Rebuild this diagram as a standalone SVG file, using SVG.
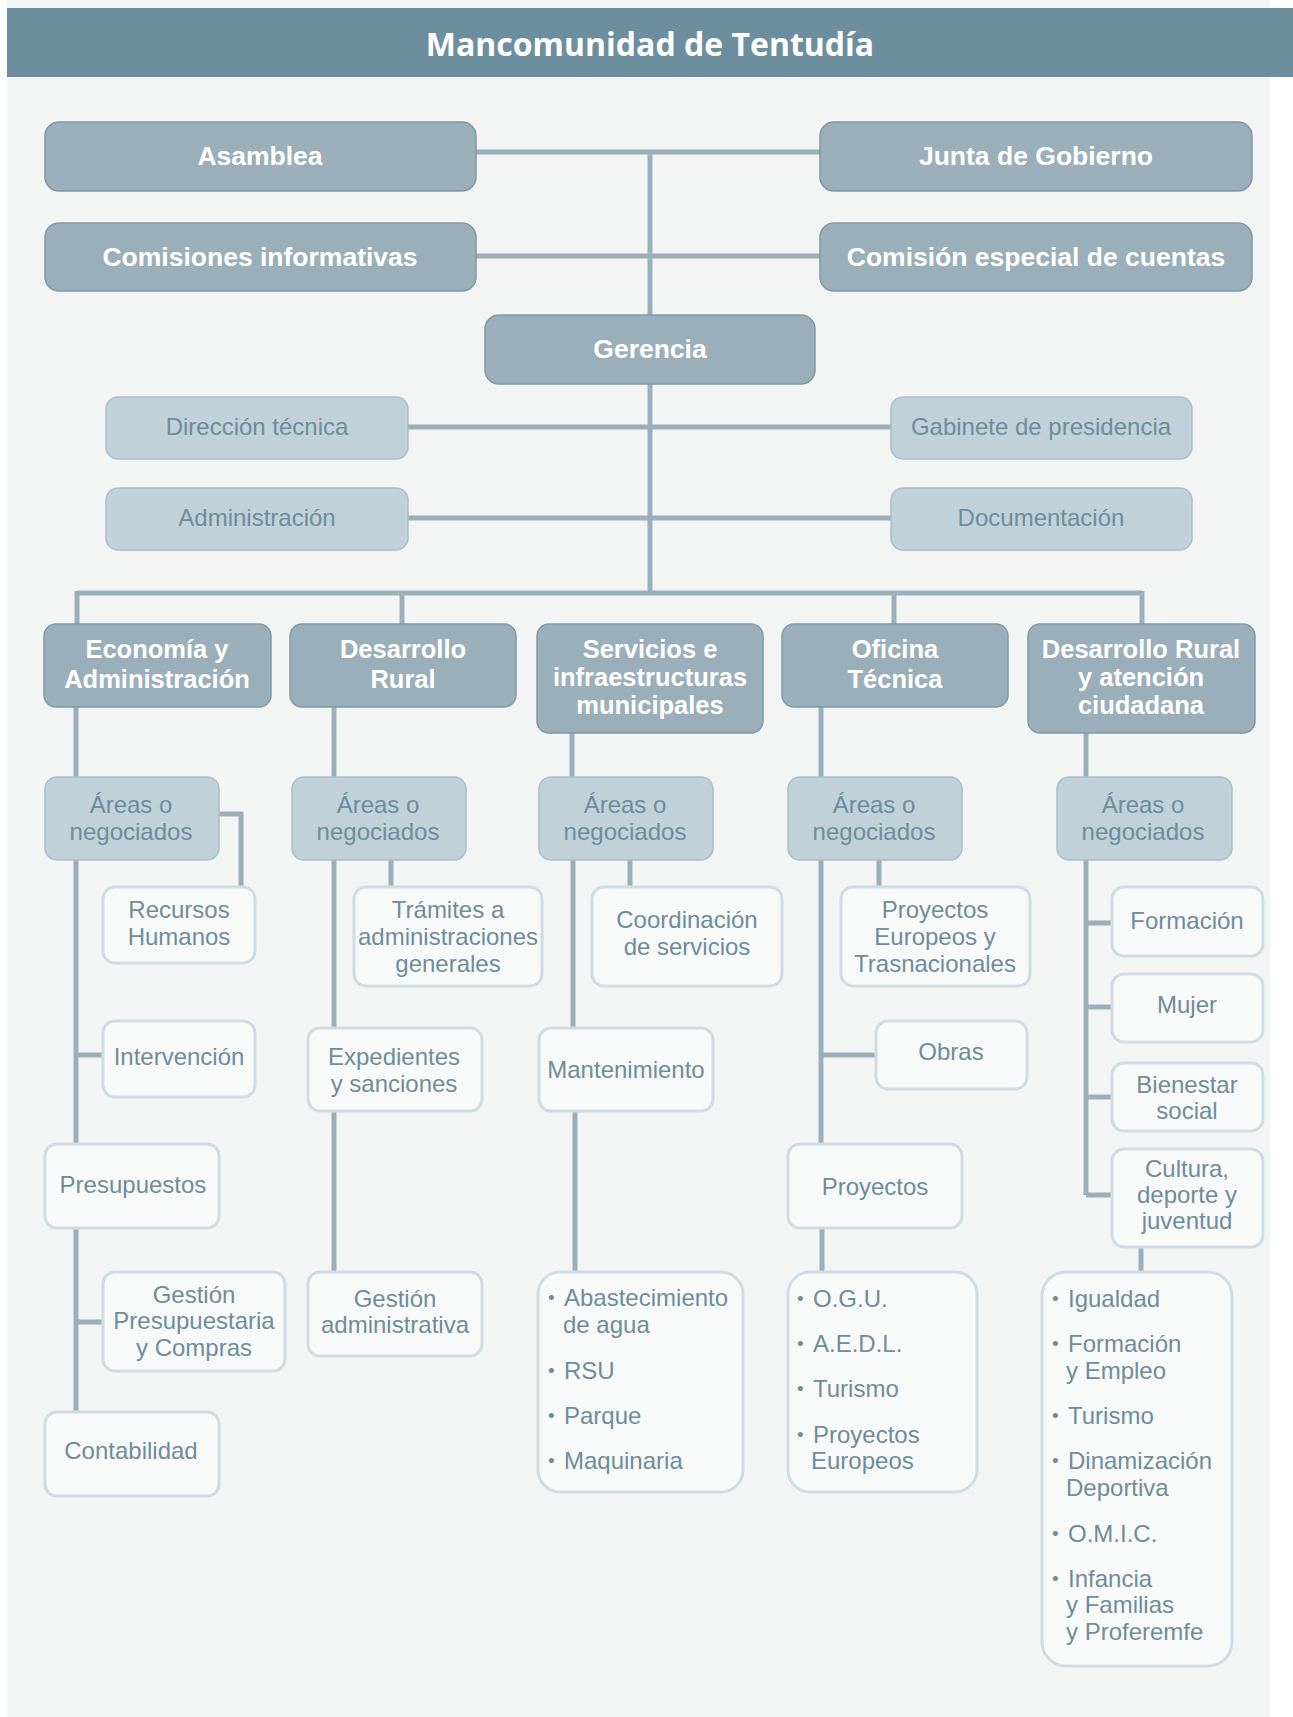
<svg xmlns="http://www.w3.org/2000/svg" width="1293" height="1717" viewBox="0 0 1293 1717">
<style>
.bg{fill:#f3f5f5}
.hdr{fill:#6d8e9f}
.title{font-family:"Open Sans","Liberation Sans",sans-serif;font-weight:bold;font-size:32px;fill:#ffffff;text-anchor:middle}
.dk{fill:#9aafba;stroke:#7f99a7;stroke-width:1.5}
.lt{fill:#c0d1da;stroke:#a9bfca;stroke-width:1.5}
.wh{fill:#f8fafa;stroke:#d0dce2;stroke-width:3}
.tb{font-family:"Liberation Sans",Arial,sans-serif;font-weight:bold;font-size:26.5px;fill:#ffffff;text-anchor:middle}
.td{font-family:"Liberation Sans",Arial,sans-serif;font-weight:bold;font-size:25.5px;fill:#ffffff;text-anchor:middle}
.tl{font-family:"Liberation Sans",Arial,sans-serif;font-size:24px;fill:#6f8c9b;text-anchor:middle}
.tw{font-family:"Liberation Sans",Arial,sans-serif;font-size:24px;fill:#6f8c9b;text-anchor:middle}
.li{font-family:"Liberation Sans",Arial,sans-serif;font-size:24px;fill:#6f8c9b}
.bu{font-family:"Liberation Sans",Arial,sans-serif;font-size:19px;fill:#6f8c9b}
.cn{fill:none;stroke:#9aafba;stroke-width:5}
</style>
<rect class="bg" x="7" y="0" width="1263" height="1717"/>
<rect class="hdr" x="7" y="8" width="1286" height="69"/>
<text class="title" x="650" y="56">Mancomunidad de Tentudía</text>

<g id="connectors">
<path class="cn" d="M476 152H820M476 256H820M650 152V315"/>
<path class="cn" d="M650 384V593M408 427H891M408 518H891"/>
<path class="cn" d="M77 593H1142M77 591V624M402 593V624M894 593V624M1142 591V624"/>
<path class="cn" d="M76 707V777M76 860V1144M76 1055H103M76 1228V1412M76 1322H103M219 814H241V887"/>
<path class="cn" d="M334 707V777M334 860V1028M334 1111V1272M391 860V887"/>
<path class="cn" d="M572 733V777M573 860V1028M575 1111V1272M630 860V887"/>
<path class="cn" d="M821 707V777M821 860V1144M821 1055H876M879 860V887M822 1228V1272"/>
<path class="cn" d="M1086 733V777M1086 860V1195M1086 923H1112M1086 1007H1112M1086 1097H1112M1086 1195H1112M1141 1247V1272"/>
</g>

<g id="asamblea"><rect class="dk" x="45" y="122" width="431" height="69" rx="14"/><text class="tb" x="260" y="165">Asamblea</text></g>
<g id="junta"><rect class="dk" x="820" y="122" width="432" height="69" rx="14"/><text class="tb" x="1036" y="165">Junta de Gobierno</text></g>
<g id="comisiones"><rect class="dk" x="45" y="223" width="431" height="68" rx="14"/><text class="tb" x="260" y="266">Comisiones informativas</text></g>
<g id="comision-especial"><rect class="dk" x="820" y="223" width="432" height="68" rx="14"/><text class="tb" x="1036" y="266">Comisión especial de cuentas</text></g>
<g id="gerencia"><rect class="dk" x="485" y="315" width="330" height="69" rx="14"/><text class="tb" x="650" y="358">Gerencia</text></g>

<g id="direccion"><rect class="lt" x="106" y="397" width="302" height="62" rx="12"/><text class="tl" x="257" y="435">Dirección técnica</text></g>
<g id="gabinete"><rect class="lt" x="891" y="397" width="301" height="62" rx="12"/><text class="tl" x="1041" y="435">Gabinete de presidencia</text></g>
<g id="administracion"><rect class="lt" x="106" y="488" width="302" height="62" rx="12"/><text class="tl" x="257" y="526">Administración</text></g>
<g id="documentacion"><rect class="lt" x="891" y="488" width="301" height="62" rx="12"/><text class="tl" x="1041" y="526">Documentación</text></g>

<g id="economia"><rect class="dk" x="44" y="624" width="227" height="83" rx="12"/><text class="td" x="157" y="658">Economía y</text><text class="td" x="157" y="688">Administración</text></g>
<g id="desarrollo"><rect class="dk" x="290" y="624" width="226" height="83" rx="12"/><text class="td" x="403" y="658">Desarrollo</text><text class="td" x="403" y="688">Rural</text></g>
<g id="servicios"><rect class="dk" x="537" y="624" width="226" height="109" rx="12"/><text class="td" x="650" y="658">Servicios e</text><text class="td" x="650" y="686">infraestructuras</text><text class="td" x="650" y="714">municipales</text></g>
<g id="oficina"><rect class="dk" x="782" y="624" width="226" height="83" rx="12"/><text class="td" x="895" y="658">Oficina</text><text class="td" x="895" y="688">Técnica</text></g>
<g id="desarrollo-atencion"><rect class="dk" x="1028" y="624" width="227" height="109" rx="12"/><text class="td" x="1141" y="658">Desarrollo Rural</text><text class="td" x="1141" y="686">y atención</text><text class="td" x="1141" y="714">ciudadana</text></g>

<g id="areas1"><rect class="lt" x="45" y="777" width="174" height="83" rx="12"/><text class="tl" x="131" y="813">Áreas o</text><text class="tl" x="131" y="840">negociados</text></g>
<g id="areas2"><rect class="lt" x="292" y="777" width="174" height="83" rx="12"/><text class="tl" x="378" y="813">Áreas o</text><text class="tl" x="378" y="840">negociados</text></g>
<g id="areas3"><rect class="lt" x="539" y="777" width="174" height="83" rx="12"/><text class="tl" x="625" y="813">Áreas o</text><text class="tl" x="625" y="840">negociados</text></g>
<g id="areas4"><rect class="lt" x="788" y="777" width="174" height="83" rx="12"/><text class="tl" x="874" y="813">Áreas o</text><text class="tl" x="874" y="840">negociados</text></g>
<g id="areas5"><rect class="lt" x="1057" y="777" width="175" height="83" rx="12"/><text class="tl" x="1143" y="813">Áreas o</text><text class="tl" x="1143" y="840">negociados</text></g>

<g id="recursos"><rect class="wh" x="103" y="887" width="152" height="76" rx="12"/><text class="tw" x="179" y="918">Recursos</text><text class="tw" x="179" y="945">Humanos</text></g>
<g id="intervencion"><rect class="wh" x="103" y="1021" width="152" height="76" rx="12"/><text class="tw" x="179" y="1065">Intervención</text></g>
<g id="presupuestos"><rect class="wh" x="45" y="1144" width="174" height="84" rx="12"/><text class="tw" x="133" y="1193">Presupuestos</text></g>
<g id="gestion-presupuestaria"><rect class="wh" x="103" y="1272" width="182" height="99" rx="12"/><text class="tw" x="194" y="1303">Gestión</text><text class="tw" x="194" y="1329">Presupuestaria</text><text class="tw" x="194" y="1356">y Compras</text></g>
<g id="contabilidad"><rect class="wh" x="45" y="1412" width="174" height="84" rx="12"/><text class="tw" x="131" y="1459">Contabilidad</text></g>

<g id="tramites"><rect class="wh" x="354" y="887" width="188" height="99" rx="12"/><text class="tw" x="448" y="918">Trámites a</text><text class="tw" x="448" y="945">administraciones</text><text class="tw" x="448" y="972">generales</text></g>
<g id="expedientes"><rect class="wh" x="308" y="1028" width="174" height="83" rx="12"/><text class="tw" x="394" y="1065">Expedientes</text><text class="tw" x="394" y="1092">y sanciones</text></g>
<g id="gestion-administrativa"><rect class="wh" x="308" y="1272" width="174" height="84" rx="12"/><text class="tw" x="395" y="1307">Gestión</text><text class="tw" x="395" y="1333">administrativa</text></g>

<g id="coordinacion"><rect class="wh" x="592" y="887" width="190" height="99" rx="12"/><text class="tw" x="687" y="928">Coordinación</text><text class="tw" x="687" y="955">de servicios</text></g>
<g id="mantenimiento"><rect class="wh" x="539" y="1028" width="174" height="83" rx="12"/><text class="tw" x="626" y="1078">Mantenimiento</text></g>
<g id="lista-servicios"><rect class="wh" x="538" y="1272" width="205" height="220" rx="22"/>
<text class="bu" x="548" y="1304">•</text><text class="li" x="564" y="1306">Abastecimiento</text><text class="li" x="563" y="1333">de agua</text>
<text class="bu" x="548" y="1377">•</text><text class="li" x="564" y="1379">RSU</text>
<text class="bu" x="548" y="1422">•</text><text class="li" x="564" y="1424">Parque</text>
<text class="bu" x="548" y="1467">•</text><text class="li" x="564" y="1469">Maquinaria</text></g>

<g id="proyectos-europeos"><rect class="wh" x="841" y="887" width="189" height="99" rx="12"/><text class="tw" x="935" y="918">Proyectos</text><text class="tw" x="935" y="945">Europeos y</text><text class="tw" x="935" y="972">Trasnacionales</text></g>
<g id="obras"><rect class="wh" x="876" y="1021" width="151" height="68" rx="12"/><text class="tw" x="951" y="1060">Obras</text></g>
<g id="proyectos"><rect class="wh" x="788" y="1144" width="174" height="84" rx="12"/><text class="tw" x="875" y="1195">Proyectos</text></g>
<g id="lista-oficina"><rect class="wh" x="788" y="1272" width="189" height="220" rx="22"/>
<text class="bu" x="797" y="1305">•</text><text class="li" x="813" y="1307">O.G.U.</text>
<text class="bu" x="797" y="1350">•</text><text class="li" x="813" y="1352">A.E.D.L.</text>
<text class="bu" x="797" y="1395">•</text><text class="li" x="813" y="1397">Turismo</text>
<text class="bu" x="797" y="1441">•</text><text class="li" x="813" y="1443">Proyectos</text><text class="li" x="811" y="1469">Europeos</text></g>

<g id="formacion"><rect class="wh" x="1112" y="887" width="151" height="69" rx="12"/><text class="tw" x="1187" y="929">Formación</text></g>
<g id="mujer"><rect class="wh" x="1112" y="974" width="151" height="68" rx="12"/><text class="tw" x="1187" y="1013">Mujer</text></g>
<g id="bienestar"><rect class="wh" x="1112" y="1063" width="151" height="68" rx="12"/><text class="tw" x="1187" y="1093">Bienestar</text><text class="tw" x="1187" y="1119">social</text></g>
<g id="cultura"><rect class="wh" x="1112" y="1149" width="151" height="98" rx="12"/><text class="tw" x="1187" y="1177">Cultura,</text><text class="tw" x="1187" y="1203">deporte y</text><text class="tw" x="1187" y="1229">juventud</text></g>
<g id="lista-atencion"><rect class="wh" x="1042" y="1272" width="190" height="394" rx="24"/>
<text class="bu" x="1052" y="1305">•</text><text class="li" x="1068" y="1307">Igualdad</text>
<text class="bu" x="1052" y="1350">•</text><text class="li" x="1068" y="1352">Formación</text><text class="li" x="1066" y="1379">y Empleo</text>
<text class="bu" x="1052" y="1422">•</text><text class="li" x="1068" y="1424">Turismo</text>
<text class="bu" x="1052" y="1467">•</text><text class="li" x="1068" y="1469">Dinamización</text><text class="li" x="1066" y="1496">Deportiva</text>
<text class="bu" x="1052" y="1540">•</text><text class="li" x="1068" y="1542">O.M.I.C.</text>
<text class="bu" x="1052" y="1585">•</text><text class="li" x="1068" y="1587">Infancia</text><text class="li" x="1066" y="1613">y Familias</text><text class="li" x="1066" y="1640">y Proferemfe</text></g>
</svg>
